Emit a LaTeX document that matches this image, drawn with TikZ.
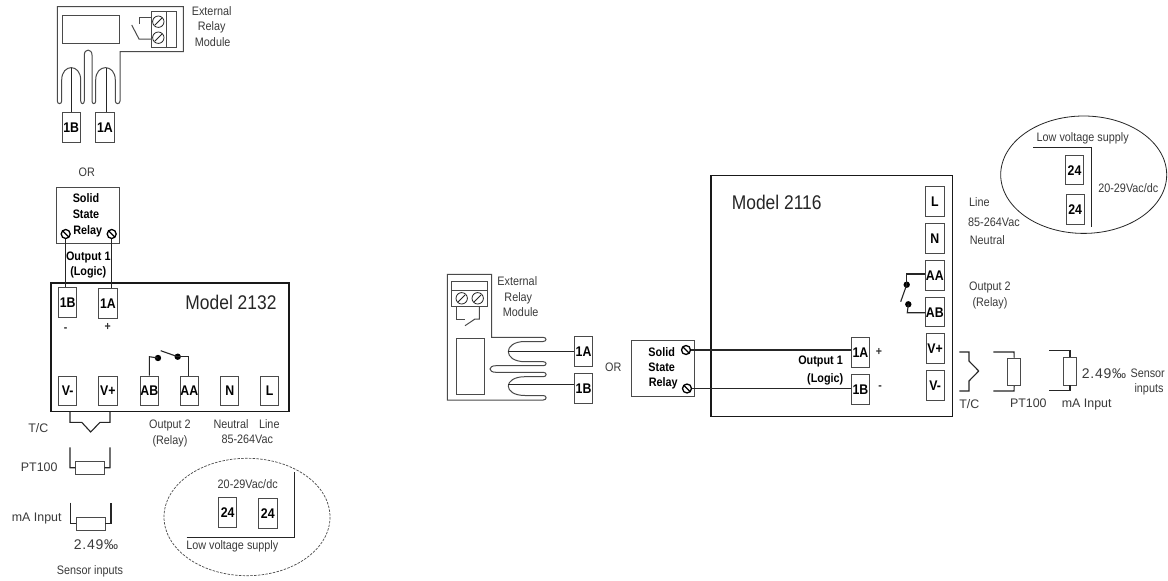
\documentclass[tikz,border=0pt]{standalone}
\usepackage{fontspec}
\setmainfont[FakeStretch=0.88]{Liberation Sans}
\newfontfamily\widefont{Liberation Sans}
\newfontfamily\spacedfont[LetterSpace=5]{Liberation Sans}
\definecolor{ink}{HTML}{3A3A3A}
\definecolor{edge}{HTML}{4A4A4A}
\tikzset{
  thin line/.style={draw=edge,line width=0.8pt},
  wire/.style={draw=black!85,line width=1.1pt},
  frame/.style={draw=black!90,line width=1.5pt},
  termbox/.style={draw=edge,line width=0.8pt,minimum width=18.3pt,minimum height=29.7pt,inner sep=0pt,font=\fontsize{14}{15}\selectfont\bfseries,text=black,text height=10pt,text depth=0pt},
  lbl/.style={inner sep=0pt,text=ink,font=\fontsize{12.3}{13}\selectfont,text height=8.8pt,text depth=0.5pt},
  wide/.style={inner sep=0pt,text=ink,font=\widefont\fontsize{12.4}{13}\selectfont,text height=8.8pt,text depth=0.2pt},
  ratio/.style={inner sep=0pt,text=ink,font=\spacedfont\fontsize{14}{15}\selectfont,text height=10pt,text depth=0.2pt},
  blbl/.style={inner sep=0pt,text=black,font=\fontsize{12.3}{13}\selectfont\bfseries,text height=8.8pt,text depth=0.5pt},
  signlbl/.style={inner sep=0pt,text=black!80,font=\fontsize{12}{13}\selectfont\bfseries},
  modellbl/.style={inner sep=0pt,text=black!85,font=\fontsize{19.8}{21}\selectfont,text height=14.2pt,text depth=0pt},
  screwf/.style={circle,draw=black!85,line width=0.8pt,minimum size=11.4pt,inner sep=0pt,
    path picture={\draw[line width=0.8pt,black!85] ([xshift=3.5pt,yshift=3.5pt]path picture bounding box.center) -- ++(-7pt,-7pt);}},
  screwb/.style={circle,draw=black,line width=1.3pt,minimum size=9pt,inner sep=0pt,
    path picture={\draw[line width=1.3pt,black] (path picture bounding box.north west) -- (path picture bounding box.south east);}},
  dotn/.style={circle,fill=black,minimum size=6.4pt,inner sep=0pt},
}
\begin{document}
\begin{tikzpicture}[x=1pt,y=-1pt]
\useasboundingbox[fill=white] (0,0) rectangle (1168,581);

% ---------- LEFT: external relay module
\draw[thin line,line width=1pt] (57.3,6.7) -- (183.3,6.7) -- (183.3,51.7) -- (120,51.7) -- (120,101)
 .. controls (120,104.5) and (115.3,104.5) .. (115.3,101) -- (115.3,80)
 .. controls (115.3,63.5) and (95.7,63.5) .. (95.7,80) -- (95.7,101)
 .. controls (95.7,104.5) and (92,104.5) .. (92,101) -- (92,55)
 .. controls (92,48.5) and (84.3,48.5) .. (84.3,55) -- (84.3,101)
 .. controls (84.3,104.5) and (80.7,104.5) .. (80.7,101) -- (80.7,80)
 .. controls (80.7,63.5) and (61.7,63.5) .. (61.7,80) -- (61.7,101)
 .. controls (61.7,104.5) and (57.3,104.5) .. (57.3,101) -- cycle;
\node[thin line,minimum width=56.3pt,minimum height=28.4pt,inner sep=0pt] (lrect) at (90.85,29.5) {};
\node[thin line,minimum width=25pt,minimum height=35.7pt,inner sep=0pt] (lblock) at (163.5,29.15) {};
\draw[thin line] (166,11.3) -- (166,47);
\node[screwf] (ls1) at (158.3,21.7) {};
\node[screwf] (ls2) at (158.3,37.7) {};
\draw[thin line,line width=1pt] (151,17.3) -- (139,17.3) -- (139,24);
\draw[thin line,line width=1pt] (131.7,25) -- (139,39) -- (151,39);
\coordinate (lpB) at (71.3,67.7);
\coordinate (lpA) at (106,67.7);
\node[termbox] (eB) at (71.2,127.5) {1B};
\node[termbox] (eA) at (104.9,127.5) {1A};
\draw[wire,line width=.9pt] (lpB) -- (lpB |- eB.north);
\draw[wire,line width=.9pt] (lpA) -- (lpA |- eA.north);
\node[lbl] (lext) at (211.7,11.7) {External};
\node[lbl] (lrel) at (211.7,26.7) {Relay};
\node[lbl] (lmod) at (212.7,42.3) {Module};
\node[lbl] (lor) at (86.7,172.7) {OR};

% ---------- LEFT: solid state relay
\node[thin line,minimum width=63pt,minimum height=56pt,inner sep=0pt] (lssr) at (87.5,215.3) {};
\node[blbl] (lsolid) at (86,198.3) {Solid};
\node[blbl] (lstate) at (86,214.3) {State};
\node[blbl] (lrelay) at (87.7,230) {Relay};
\node[blbl] (lo1) at (88.3,256.7) {Output 1};
\node[blbl] (lo1b) at (88.3,271.7) {(Logic)};

% ---------- LEFT: model 2132
\node[frame,minimum width=238pt,minimum height=128.7pt,inner sep=0pt] (lmodel) at (170,347.35) {};
\node[modellbl] (lmname) at (231,302.3) {Model 2132};
\node[termbox] (lt1B) at (67.7,302.5) {1B};
\node[termbox] (lt1A) at (108,303.1) {1A};
\node[screwb] (lssB) at (65.7,234) {};
\node[screwb] (lssA) at (111.7,234) {};
\draw[wire] (lssB.south) -- (lssB.south |- lt1B.north);
\draw[wire] (lssA.south) -- (lssA.south |- lt1A.north);
\node[signlbl] (lminus) at (65.7,329.5) {-};
\node[signlbl] (lplus) at (107.7,327.3) {+};
\node[termbox] (lVm) at (67.7,390.8) {V-};
\node[termbox] (lVp) at (107.85,390.8) {V+};
\node[termbox] (lAB) at (149.3,390.8) {AB};
\node[termbox] (lAA) at (189.3,390.8) {AA};
\node[termbox] (lN) at (229.7,390.8) {N};
\node[termbox] (lL) at (269.7,390.8) {L};
\node[dotn] (ld1) at (158,358) {};
\node[dotn] (ld2) at (177.7,356.7) {};
\coordinate (lblade) at (160.7,350.7);
\draw[wire] (lAB.north) -- (149.3,356.7) -- (ld1.center);
\draw[wire] (lblade) -- (ld2.center);
\draw[wire] (ld2.center) -- (188.7,356.7) -- (188.7,375.9);

% left sensors
\draw[wire] (70,411.7) -- (70,422.3) -- (81.7,422.3) -- (90.7,432) -- (100,422.3) -- (110,422.3) -- (110,411.7);
\node[thin line,minimum width=28.3pt,minimum height=13pt,inner sep=0pt] (lpt) at (89.85,467.8) {};
\draw[wire] (70,447.3) -- (70,467.7) -- (lpt.west);
\draw[wire] (lpt.east) -- (110,467.7) -- (110,447.3);
\node[thin line,minimum width=28.3pt,minimum height=13pt,inner sep=0pt] (lma) at (90.85,523.5) {};
\draw[wire] (70.7,502.7) -- (70.7,523.5) -- (lma.west);
\draw[wire] (lma.east) -- (111,523.5) -- (111,502.7);
\node[wide,anchor=east] (ltc) at (48.5,428.5) {T/C};
\node[wide,anchor=east] (lptt) at (57.7,466.7) {PT100};
\node[wide,anchor=east] (lmat) at (61.7,517.3) {mA Input};
\node[ratio] (l249) at (96,544.3) {2.49‰};
\node[lbl] (lsens) at (90,570.7) {Sensor inputs};
\node[lbl] (lo2) at (170,424) {Output 2};
\node[lbl] (lo2b) at (170,440) {(Relay)};
\node[lbl] (lneu) at (231,424.3) {Neutral};
\node[lbl] (llin) at (269.3,424.3) {Line};
\node[lbl] (l85) at (247.3,439.3) {85-264Vac};

% left low voltage
\draw[edge,line width=.7pt,dash pattern=on 2.5pt off 1.3pt] (247,517) ellipse [x radius=83,y radius=58.7];
\node[lbl] (l20) at (247.7,484.3) {20-29Vac/dc};
\node[termbox] (l24a) at (227.7,512.5) {24};
\node[termbox] (l24b) at (267.8,513.1) {24};
\draw[wire,line width=.9pt] (186.7,537.3) -- (294,537.3) -- (294,471.7);
\node[lbl] (llow) at (232.3,545.7) {Low voltage supply};

% ---------- RIGHT: external relay module
\draw[thin line,line width=1pt] (447.3,274.3) -- (491.7,274.3) -- (491.7,337.3) -- (543,337.3)
 .. controls (547,337.3) and (547,341.5) .. (543,341.5) -- (525,341.5)
 .. controls (502.7,341.5) and (502.7,361.7) .. (525,361.7) -- (543.3,361.7)
 .. controls (547,361.7) and (547,365.7) .. (543.3,365.7) -- (496,365.7)
 .. controls (488,365.7) and (488,372.3) .. (496,372.3) -- (543.3,372.3)
 .. controls (547,372.3) and (547,376.7) .. (543.3,376.7) -- (525,376.7)
 .. controls (502.7,376.7) and (502.7,395.5) .. (525,395.5) -- (543.3,395.5)
 .. controls (547,395.5) and (547,400) .. (543.3,400) -- (447.3,400) -- cycle;
\node[thin line,minimum width=28.3pt,minimum height=56pt,inner sep=0pt] (rrect) at (470.15,366.3) {};
\node[thin line,minimum width=35.6pt,minimum height=24.6pt,inner sep=0pt] (rblock) at (469.5,294) {};
\draw[thin line] (451.7,290.7) -- (487.3,290.7);
\node[screwf] (rs1) at (461.7,298.3) {};
\node[screwf] (rs2) at (477.7,298.3) {};
\draw[thin line,line width=1pt] (456.7,306.3) -- (456.7,319) -- (465,319);
\draw[thin line,line width=1pt] (465,325.7) -- (475,319) -- (479.3,319) -- (479.3,306.3);
\coordinate (rpA) at (508.3,351);
\coordinate (rpB) at (508.3,384);
\node[termbox] (rA) at (583.6,351.7) {1A};
\node[termbox] (rB) at (583.6,388.7) {1B};
\draw[wire,line width=.9pt] (rpA) -- (rpA -| rA.west);
\draw[wire,line width=.9pt] (rpB) -- (rpB -| rB.west);
\node[lbl] (rext) at (517.3,281.7) {External};
\node[lbl] (rrel) at (518.3,297.7) {Relay};
\node[lbl] (rmod) at (520.7,312.7) {Module};
\node[lbl] (ror) at (613.3,367.3) {OR};

% right SSR
\node[thin line,minimum width=63pt,minimum height=56.4pt,inner sep=0pt] (rssr) at (663.2,368.5) {};
\node[blbl] (rsolid) at (661.7,352.3) {Solid};
\node[blbl] (rstate) at (661.7,367.7) {State};
\node[blbl] (rrelay) at (663.3,382.7) {Relay};

% right model 2116
\node[frame,minimum width=241.7pt,minimum height=241pt,inner sep=0pt] (rmodel) at (831.85,296.2) {};
\node[modellbl] (rmname) at (776.7,202.7) {Model 2116};
\node[termbox] (rt1A) at (860.5,352.7) {1A};
\node[termbox] (rt1B) at (860.5,389.5) {1B};
\node[screwb] (rsA) at (686,350) {};
\node[screwb] (rsB) at (687,388.5) {};
\draw[wire] (rsA.east) -- (rsA.east -| rt1A.west);
\draw[wire] (rsB.east) -- (rsB.east -| rt1B.west);
\node[blbl,anchor=east] (ro1) at (843,360) {Output 1};
\node[blbl,anchor=east] (ro1b) at (843.5,378.3) {(Logic)};
\node[signlbl] (rplus) at (879,352.3) {+};
\node[signlbl] (rminus) at (880,388) {-};
\node[termbox] (rL) at (934.85,201.5) {L};
\node[termbox] (rN) at (934.85,238.3) {N};
\node[termbox] (rAA) at (934.85,275.15) {AA};
\node[termbox] (rAB) at (934.85,312) {AB};
\node[termbox] (rVp) at (935.15,348.5) {V+};
\node[termbox] (rVm) at (935.15,385.7) {V-};
\node[dotn] (rd1) at (906.7,284.7) {};
\node[dotn] (rd2) at (908.3,304.3) {};
\coordinate (rblade) at (900.7,301.7);
\draw[wire] (rAA.west |- 0,274) -- (906.7,274) -- (rd1.center);
\draw[wire] (rblade) -- (rd1.center);
\draw[wire] (rd2.center) -- (907.3,312.7) -- (rAB.west |- 0,312.7);
\node[lbl,anchor=west] (rlin) at (969,202.7) {Line};
\node[lbl,anchor=west] (r85) at (968,222) {85-264Vac};
\node[lbl,anchor=west] (rneu) at (969.7,240) {Neutral};
\node[lbl] (ro2) at (990,286.7) {Output 2};
\node[lbl] (ro2b) at (990,302.7) {(Relay)};

% right low voltage
\draw[black!85,line width=.8pt] (1083.7,174.7) ellipse [x radius=83,y radius=58.7];
\node[lbl] (rlow) at (1082.7,137.7) {Low voltage supply};
\draw[wire,line width=.9pt] (1033.3,147) -- (1091,147) -- (1091,227.3);
\node[termbox] (r24a) at (1074.5,170) {24};
\node[termbox] (r24b) at (1075.15,209.5) {24};
\node[lbl] (r20) at (1128.3,188.7) {20-29Vac/dc};

% right sensors
\draw[wire] (959.3,352) -- (969,352) -- (969,361) -- (978.7,371) -- (969,381) -- (969,391) -- (959.3,391);
\node[thin line,minimum width=13pt,minimum height=27.7pt,inner sep=0pt] (rpt) at (1014.2,371.85) {};
\draw[wire] (993.3,352) -- (1014,352) -- (rpt.north);
\draw[wire] (rpt.south) -- (1014,391) -- (993.3,391);
\node[thin line,minimum width=13.4pt,minimum height=27.7pt,inner sep=0pt] (rma) at (1070,371.15) {};
\draw[wire] (1049,350.7) -- (1070,350.7) -- (rma.north);
\draw[wire] (rma.south) -- (1070,390.7) -- (1049,390.7);
\node[wide] (rtc) at (969.3,404) {T/C};
\node[wide] (rptt) at (1028.3,403.3) {PT100};
\node[wide] (rmat) at (1086.7,403.3) {mA Input};
\node[ratio] (r249) at (1104,374) {2.49‰};
\node[lbl] (rsen) at (1147.7,373.3) {Sensor};
\node[lbl] (rinp) at (1149,388) {inputs};
\end{tikzpicture}
\end{document}
